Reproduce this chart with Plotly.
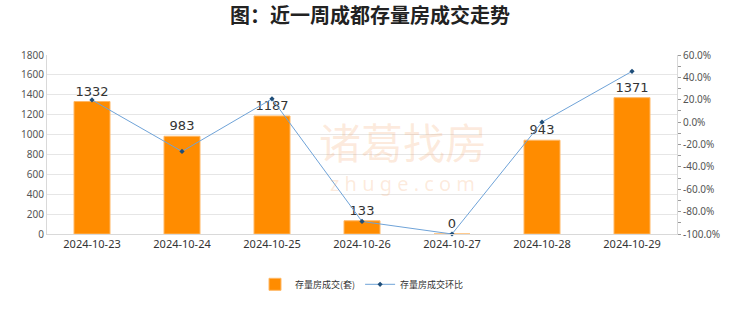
import plotly.graph_objects as go

dates = ["2024-10-23", "2024-10-24", "2024-10-25", "2024-10-26", "2024-10-27", "2024-10-28", "2024-10-29"]
volume = [1332, 983, 1187, 133, 0, 943, 1371]
mom_pct = [19.8, -26.2, 20.8, -88.8, -100.0, 0.0, 45.4]
left_ticks = list(range(0, 1801, 200))
right_ticks = list(range(-100, 61, 20))

fig = go.Figure()
fig.add_trace(go.Bar(
    x=dates, y=volume, name="存量房成交(套)",
    marker=dict(color="#FF8C00", line=dict(color="#FFB866", width=1)),
    width=0.4,
    text=[str(v) for v in volume], textposition="outside",
    textfont=dict(size=13, color="#333333", family="DejaVu Sans"), cliponaxis=False,
))
fig.add_trace(go.Scatter(
    x=dates, y=mom_pct, name="存量房成交环比", yaxis="y2",
    mode="lines+markers",
    line=dict(color="#6FA3D8", width=1),
    marker=dict(color="#1F4E79", size=4, symbol="diamond"),
    cliponaxis=False,
))

# watermark
fig.add_annotation(text="诸葛找房", xref="paper", yref="paper", x=0.565, y=0.52,
                   xanchor="center", yanchor="middle",
                   showarrow=False, font=dict(size=42, color="rgba(245,160,100,0.22)", family="Noto Sans CJK SC"))
fig.add_annotation(text="z h u g e . c o m", xref="paper", yref="paper", x=0.565, y=0.28,
                   xanchor="center", yanchor="middle",
                   showarrow=False, font=dict(size=20, color="rgba(245,160,100,0.22)", family="Noto Sans"))

fig.update_layout(
    width=740, height=312,
    margin=dict(l=47, r=63, t=55, b=78),
    paper_bgcolor="white", plot_bgcolor="white",
    font=dict(family="Noto Sans CJK SC", color="#333333"),
    title=dict(text="<b>图：近一周成都存量房成交走势</b>", x=0.5, xanchor="center", y=0.95, yanchor="middle",
               font=dict(size=20, color="#222222", family="Noto Sans CJK SC")),
    xaxis=dict(type="category", showgrid=False, showline=True, linecolor="#d9d9d9",
               tickfont=dict(size=11, color="#333333", family="Noto Sans"), ticks=""),
    yaxis=dict(range=[0, 1800], tickvals=left_ticks, showgrid=True, gridcolor="#e6e6e6",
               showline=True, linecolor="#d9d9d9", zeroline=False,
               tickfont=dict(size=10, color="#555555", family="Noto Sans"), ticks=""),
    yaxis2=dict(range=[-100, 60], tickvals=right_ticks, overlaying="y", side="right",
                ticktext=[f"{v:.1f}%" for v in right_ticks],
                showgrid=False, showline=True, linecolor="#d9d9d9", zeroline=False,
                ticks="outside", ticklen=3, tickcolor="#999999",
                minor=dict(ticks="outside", ticklen=3, tickcolor="#999999", dtick=10),
                tickfont=dict(size=10, color="#555555", family="Noto Sans")),
    legend=dict(orientation="h", x=0.5, xanchor="center", y=-0.2, yanchor="top",
                itemwidth=30, font=dict(size=9, color="#333333")),
    showlegend=True,
)

fig.write_html("out.html")
